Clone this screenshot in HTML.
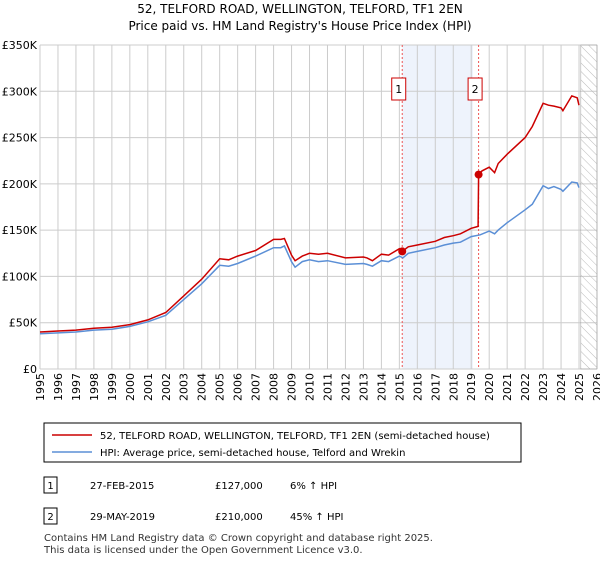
<!DOCTYPE html>
<html><head><meta charset="utf-8"><style>
body{margin:0;background:#fff;font-family:"DejaVu Sans","Liberation Sans",sans-serif;}
svg text{font-family:"DejaVu Sans","Liberation Sans",sans-serif;}
</style></head><body>
<svg id="c" width="600" height="560" viewBox="0 0 600 560" xmlns="http://www.w3.org/2000/svg">
<defs><pattern id="hatch" width="6" height="6" patternUnits="userSpaceOnUse" patternTransform="rotate(-45)"><line x1="0" y1="0" x2="0" y2="6" stroke="#bbb" stroke-width="1"/></pattern></defs>
<text x="300" y="13" text-anchor="middle" font-size="12">52, TELFORD ROAD, WELLINGTON, TELFORD, TF1 2EN</text>
<text x="300" y="30" text-anchor="middle" font-size="12">Price paid vs. HM Land Registry's House Price Index (HPI)</text>
<g id="grid"></g><g id="marks"></g><g id="axes"></g>
<g>
<rect x="44" y="423" width="477" height="39" fill="#fff" stroke="#000" stroke-width="1"/>
<line x1="52" y1="435" x2="92" y2="435" stroke="#cc0000" stroke-width="1.5"/>
<text x="100" y="439" font-size="10">52, TELFORD ROAD, WELLINGTON, TELFORD, TF1 2EN (semi-detached house)</text>
<line x1="52" y1="452" x2="92" y2="452" stroke="#5b8fd6" stroke-width="1.5"/>
<text x="100" y="456" font-size="10">HPI: Average price, semi-detached house, Telford and Wrekin</text>
</g>
<g font-size="10">
<rect x="44" y="477" width="13" height="16" fill="#fff" stroke="#000"/><text x="50.5" y="489" text-anchor="middle">1</text>
<text x="90" y="489">27-FEB-2015</text><text x="215" y="489">£127,000</text><text x="290" y="489">6% ↑ HPI</text>
<rect x="44" y="508" width="13" height="16" fill="#fff" stroke="#000"/><text x="50.5" y="520" text-anchor="middle">2</text>
<text x="90" y="520">29-MAY-2019</text><text x="215" y="520">£210,000</text><text x="290" y="520">45% ↑ HPI</text>
</g>
<text x="44" y="541" font-size="10" fill="#333">Contains HM Land Registry data © Crown copyright and database right 2025.</text>
<text x="44" y="553" font-size="10" fill="#333">This data is licensed under the Open Government Licence v3.0.</text>
</svg>
<script>
const hpiYears=[1995,1996,1997,1998,1999,2000,2001,2002,2003,2004,2005,2005.5,2006,2007,2008,2008.4,2008.6,2009,2009.2,2009.6,2010,2010.5,2011,2012,2013,2013.2,2013.5,2014,2014.4,2015,2015.2,2015.5,2016,2017,2017.5,2018,2018.4,2019,2019.5,2020,2020.3,2020.5,2021,2022,2022.4,2023,2023.3,2023.6,2024,2024.1,2024.6,2024.9,2025.0];
const hpiValues=[38,39,40,42,43,46,51,58,75,92,112,111,114,122,131,131,133,116,110,116,118,116,117,113,114,113,111,117,116,122,120,125,127,131,134,136,137,143,145,149,146,150,158,172,178,198,195,197,194,192,202,201,196];
const priceYears=[1995,1996,1997,1998,1999,2000,2001,2002,2003,2004,2005,2005.5,2006,2007,2008,2008.4,2008.6,2009,2009.2,2009.6,2010,2010.5,2011,2012,2013,2013.2,2013.5,2014,2014.4,2015,2015.16,2015.5,2016,2017,2017.5,2018,2018.4,2019,2019.38,2019.41,2019.6,2020,2020.3,2020.5,2021,2022,2022.4,2023,2023.3,2023.6,2024,2024.1,2024.6,2024.9,2025.0];
const priceValues=[40,41,42,44,45,48,53,61,79,97,119,118,122,128,140,140,141,123,117,122,125,124,125,120,121,120,117,124,123,130,127,132,134,138,142,144,146,152,154,210,214,218,212,222,232,250,262,287,285,284,282,279,295,293,285];
const saleYears=[2015.16,2019.41];
const saleValues=[127,210];
const saleLabels=["1","2"];
const yTicks=[0,50,100,150,200,250,300,350];
const yTickLabels=["£0","£50K","£100K","£150K","£200K","£250K","£300K","£350K"];
const xTicks=[1995,1996,1997,1998,1999,2000,2001,2002,2003,2004,2005,2006,2007,2008,2009,2010,2011,2012,2013,2014,2015,2016,2017,2018,2019,2020,2021,2022,2023,2024,2025,2026];

const X0=40,X1=597,Y0=369,Y1=45;
const x=v=>X0+(v-1995)/(2026-1995)*(X1-X0);
const y=v=>Y0-v/350*(Y0-Y1);
const NS="http://www.w3.org/2000/svg";
function mk(tag,attrs,parent){const e=document.createElementNS(NS,tag);for(const k in attrs)e.setAttribute(k,attrs[k]);parent.appendChild(e);return e;}
const grid=document.getElementById('grid'),marks=document.getElementById('marks'),axes=document.getElementById('axes');
const bg=mk('rect',{x:X0,y:Y1,width:X1-X0,height:Y0-Y1,fill:'#fff'},grid);

const sh=mk('rect',{x:x(saleYears[0]),y:Y1,width:x(2019.1)-x(saleYears[0]),height:Y0-Y1,fill:'#eef3fc'},grid);

xTicks.forEach(t=>{mk('line',{x1:x(t),y1:Y1,x2:x(t),y2:Y0,stroke:'#ccc','stroke-width':1},grid);});
yTicks.forEach(t=>{mk('line',{x1:X0,y1:y(t),x2:X1,y2:y(t),stroke:'#ccc','stroke-width':1},grid);});
const ht=mk('rect',{x:x(2025.1),y:Y1,width:X1-x(2025.1),height:Y0-Y1,fill:'url(#hatch)',stroke:'#999','stroke-width':0.5},grid);

saleYears.forEach((s,i)=>{
  const l=mk('line',{x1:x(s),y1:Y1,x2:x(s),y2:Y0,stroke:'#e55','stroke-width':1,'stroke-dasharray':'2,2'},marks);
  
  const b=mk('rect',{x:x(s)-10.5,y:78,width:14,height:22,fill:'#fff',stroke:'#cc0000'},marks);
  
  const t=mk('text',{x:x(s)-3.5,y:93,'text-anchor':'middle','font-size':11},marks);t.textContent=saleLabels[i];
});
function path(xs,vs,col,name){
  const d=xs.map((v,i)=>(i?'L':'M')+x(v).toFixed(1)+','+y(vs[i]).toFixed(1)).join('');
  const p=mk('path',{d:d,fill:'none',stroke:col,'stroke-width':1.5},marks);
  
}
path(hpiYears,hpiValues,'#5b8fd6','hpi-line');
path(priceYears,priceValues,'#cc0000','price-line');
saleYears.forEach((s,i)=>{const c=mk('circle',{cx:x(s),cy:y(saleValues[i]),r:4,fill:'#cc0000'},marks);
  });
yTicks.forEach((t,i)=>{const e=mk('text',{x:X0-3,y:y(t)+4,'text-anchor':'end','font-size':11},axes);e.textContent=yTickLabels[i];
  });
xTicks.forEach(t=>{const e=mk('text',{x:x(t)+4,y:Y0+4,'text-anchor':'end','font-size':11,transform:'rotate(-90 '+(x(t)+4)+' '+(Y0+4)+')'},axes);e.textContent=t;
  });
</script>
</body></html>
